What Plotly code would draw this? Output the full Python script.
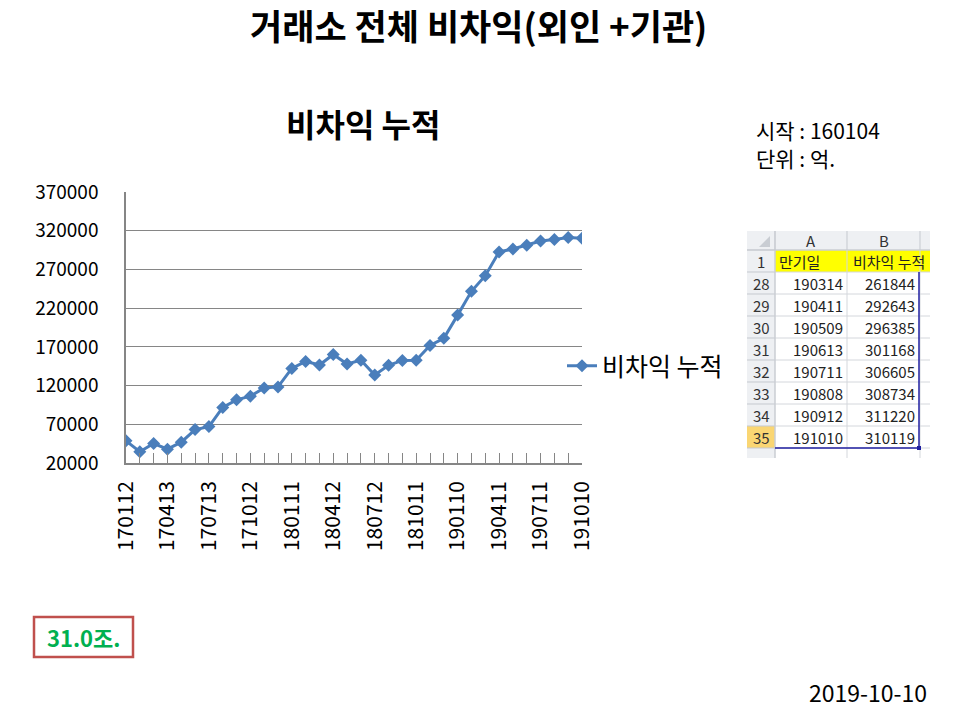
import plotly.graph_objects as go

# ---- data ----
dates = [
    "170112", "170209", "170309", "170413", "170511", "170608", "170713", "170810",
    "170914", "171012", "171109", "171214", "180111", "180208", "180308", "180412",
    "180510", "180614", "180712", "180809", "180913", "181011", "181108", "181213",
    "190110", "190214", "190314", "190411", "190509", "190613", "190711", "190808",
    "190912", "191010",
]
values = [
    48600, 34500, 45200, 37900, 46900, 63200, 67000, 91800,
    101600, 106300, 117000, 118300, 142200, 151200, 146500, 160200,
    147800, 152800, 133700, 146100, 152500, 152800, 171700, 181100,
    211000, 241800, 261844, 292643, 296385, 301168, 306605, 308734,
    311220, 310119,
]
tick_labels = [d if i % 3 == 0 else "" for i, d in enumerate(dates)]

table_rows = ["28", "29", "30", "31", "32", "33", "34", "35"]
table_dates = ["190314", "190411", "190509", "190613", "190711", "190808", "190912", "191010"]
table_values = ["261844", "292643", "296385", "301168", "306605", "308734", "311220", "310119"]

series_name = "비차익 누적"
main_title = "거래소 전체 비차익(외인 +기관)"
start_text = "시작 : 160104"
unit_text = "단위 : 억."
total_text = "31.0조."
date_text = "2019-10-10"

FONT = "Noto Sans CJK KR"
W, H = 960, 720
L, R, T, B = 126, 582, 192, 463


def X(px):
    return (px - L) / (R - L)


def Y(py):
    return (B - py) / (B - T)


fig = go.Figure()
fig.add_trace(go.Scatter(
    x=dates, y=values, mode="lines+markers", name=series_name,
    line=dict(color="#4A7EBB", width=3),
    marker=dict(symbol="diamond", size=10, color="#4A7EBB"),
))

shapes = []
ann = []


def text(px, py, s, size, color="black", xa="center", ya="middle"):
    ann.append(dict(x=X(px), y=Y(py), xref="paper", yref="paper", text=s, showarrow=False,
                    xanchor=xa, yanchor=ya, align="left",
                    font=dict(size=size, color=color, family=FONT)))


# titles and texts
text(478, 24, "<b>" + main_title + "</b>", 35)
text(363, 123, "<b>" + series_name + "</b>", 32)
text(754, 130, start_text, 21, xa="left")
text(754, 158, unit_text, 21, xa="left")
text(929, 692, date_text, 23, xa="right")

# total box
shapes.append(dict(type="rect", xref="paper", yref="paper", x0=X(34), x1=X(133), y0=Y(657), y1=Y(617),
                   line=dict(color="#C0504D", width=2.5), fillcolor="rgba(0,0,0,0)", layer="above"))
text(83.5, 637, "<b>" + total_text + "</b>", 22, color="#00B050")

# ---- excel table ----
tx0, tA, tB, tC, tx1 = 747, 775, 847, 920, 930
ty0, ty1 = 231, 250
rh = 22
row1_top = ty1
data_top = row1_top + rh
grid = "#D4D7DC"
hdr_bg = "#EEF0F3"
hdr_line = "#C5C9CF"


def rect(x0, y0, x1, y1, fill, line="rgba(0,0,0,0)", w=1):
    shapes.append(dict(type="rect", xref="paper", yref="paper", x0=X(x0), x1=X(x1),
                       y0=Y(y1), y1=Y(y0), fillcolor=fill, line=dict(color=line, width=w),
                       layer="above"))


def hline(x0, x1, y, color, w=1):
    shapes.append(dict(type="line", xref="paper", yref="paper", x0=X(x0), x1=X(x1),
                       y0=Y(y), y1=Y(y), line=dict(color=color, width=w), layer="above"))


def vline(x, y0, y1, color, w=1):
    shapes.append(dict(type="line", xref="paper", yref="paper", x0=X(x), x1=X(x),
                       y0=Y(y0), y1=Y(y1), line=dict(color=color, width=w), layer="above"))


bottom = data_top + rh * len(table_rows) + 10
rect(tx0, ty0, tx1, bottom, "white")
rect(tx0, ty0, tx1, ty1, hdr_bg)
rect(tx0, ty1, tA, bottom, hdr_bg)
rect(tx0, data_top + rh * 7, tA, data_top + rh * 8, "#FAD673")
rect(tA, row1_top, tx1, data_top, "#FFFF00")
shapes.append(dict(type="path", xref="paper", yref="paper",
                   path="M {},{} L {},{} L {},{} Z".format(X(770), Y(236), X(770), Y(247), X(759), Y(247)),
                   fillcolor="#C9CDD3", line=dict(width=0), layer="above"))
for k in range(len(table_rows) + 2):
    yy = row1_top + rh * k
    hline(tx0, tA, yy, hdr_line)
    hline(tA, tx1, yy, grid)
hline(tx0, tx1, ty1, hdr_line)
for xx in (tA, tB, tC):
    vline(xx, ty0, ty1, hdr_line)
    vline(xx, ty1, bottom, grid)
vline(tA, ty0, bottom, hdr_line)
vline(tC - 1, data_top, data_top + rh * 8, "#1F1FA0", 1.5)
hline(tA, tC - 1, data_top + rh * 8, "#1F1FA0", 1.5)
rect(tC - 3, data_top + rh * 8 - 2, tC + 1, data_top + rh * 8 + 2, "#1F1FA0")

text((tA + tB) / 2, (ty0 + ty1) / 2, "A", 15, color="#333333")
text((tB + tC) / 2, (ty0 + ty1) / 2, "B", 15, color="#333333")
text(761, row1_top + rh / 2, "1", 15, color="#333333")
text(tA + 2, row1_top + rh / 2, "만기일", 15, color="#222222", xa="left")
text(tB + 4, row1_top + rh / 2, series_name, 15, color="#222222", xa="left")
for k, (rn, d, v) in enumerate(zip(table_rows, table_dates, table_values)):
    yc = data_top + rh * k + rh / 2
    text(761, yc, rn, 15, color="#333333")
    text(tB - 2, yc, d, 15, color="#222222", xa="right")
    text(tC - 3, yc, v, 15, color="#222222", xa="right")

fig.update_layout(
    width=W, height=H,
    margin=dict(l=L, r=W - R, t=T, b=H - B, pad=0),
    paper_bgcolor="white", plot_bgcolor="white",
    font=dict(family=FONT, size=19, color="black"),
    showlegend=True,
    legend=dict(x=X(562), y=Y(366), xanchor="left", yanchor="middle",
                font=dict(size=25, color="black"), bgcolor="rgba(0,0,0,0)",
                itemwidth=30, tracegroupgap=0),
    shapes=shapes,
    annotations=ann,
)
fig.update_xaxes(
    type="category", tickmode="array", tickvals=dates, ticktext=tick_labels,
    tickangle=-90, range=[0, len(dates) - 1],
    showline=True, linecolor="#868686", linewidth=1.5,
    ticks="inside", ticklen=10, tickcolor="#868686", tickwidth=1,
    showgrid=False, tickfont=dict(size=21), ticklabelstandoff=8,
)
fig.update_yaxes(
    range=[20000, 370000], tick0=20000, dtick=50000, tickformat="d",
    showline=True, linecolor="#868686", linewidth=1.5,
    showgrid=True, gridcolor="#868686", gridwidth=1, zeroline=False,
    ticks="", tickfont=dict(size=19), ticklabelstandoff=22,
)

fig.write_html("out.html")
